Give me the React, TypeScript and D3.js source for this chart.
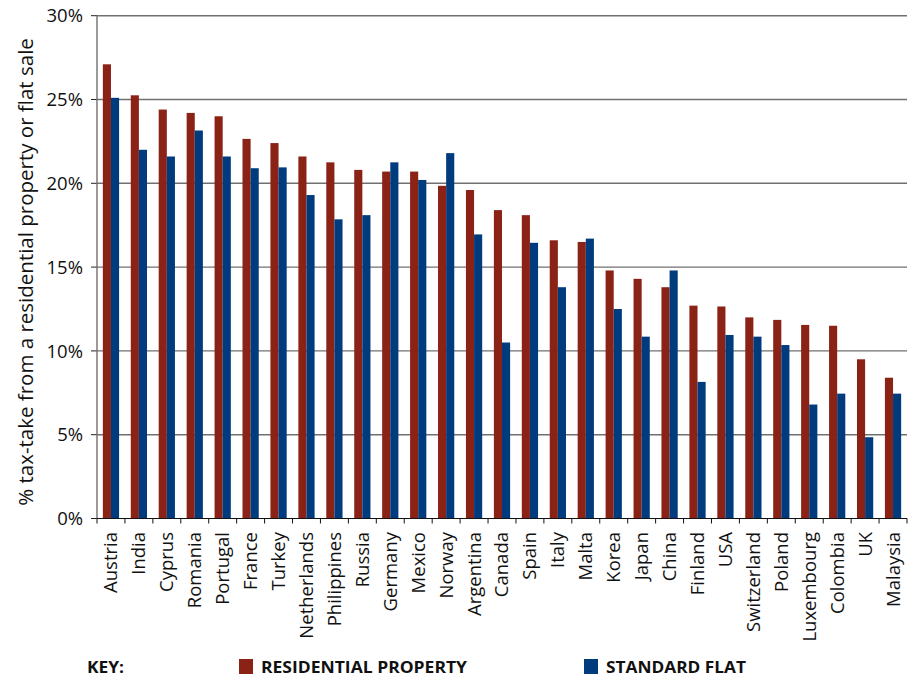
import React from "react";
import * as d3 from "d3";

const countries = ["Austria","India","Cyprus","Romania","Portugal","France","Turkey","Netherlands","Philippines","Russia","Germany","Mexico","Norway","Argentina","Canada","Spain","Italy","Malta","Korea","Japan","China","Finland","USA","Switzerland","Poland","Luxembourg","Colombia","UK","Malaysia"];
const residential = [27.1,25.25,24.4,24.2,24.0,22.65,22.4,21.6,21.25,20.8,20.7,20.7,19.85,19.6,18.4,18.1,16.6,16.5,14.8,14.3,13.8,12.7,12.65,12.0,11.85,11.55,11.5,9.5,8.4];
const standardFlat = [25.1,22.0,21.6,23.15,21.6,20.9,20.95,19.3,17.85,18.1,21.25,20.2,21.8,16.95,10.5,16.45,13.8,16.7,12.5,10.85,14.8,8.15,10.95,10.85,10.35,6.8,7.45,4.85,7.45];
const yTicks = [0,5,10,15,20,25,30];
const seriesNames = ["RESIDENTIAL PROPERTY","STANDARD FLAT"];
const seriesColors = ["#8a2315","#003b7e"];

export default function App() {
  const W = 914, H = 679;
  const left = 97, right = 907, top = 15.7, bottom = 518.5;
  const x = d3.scaleBand<string>().domain(countries).range([left, right]).paddingInner(0).paddingOuter(0);
  const sub = d3.scaleBand<number>().domain([0,1]).range([0, x.bandwidth()]).paddingInner(0).paddingOuter(0.72);
  const y = d3.scaleLinear().domain([0,30]).range([bottom, top]);
  const font = "'Open Sans', sans-serif";
  const series = [residential, standardFlat];
  return (
    <svg width={W} height={H} style={{position:"absolute", left:0, top:0, background:"#fff"}}>
      {yTicks.filter(t => t > 0).map(t => (
        <line key={"g"+t} x1={left} x2={right} y1={y(t)} y2={y(t)} stroke="#707070" strokeWidth={1.4} />
      ))}
      {yTicks.map(t => (
        <g key={"t"+t}>
          <line x1={left-6} x2={left} y1={y(t)} y2={y(t)} stroke="#222" strokeWidth={1} />
          <text x={83} y={y(t)} dy="0.36em" textAnchor="end" fontFamily={font} fontSize={18.5} fill="#111">{t + "%"}</text>
        </g>
      ))}
      {countries.map((c, i) => (
        <g key={c}>
          {series.map((s, k) => (
            <rect key={k} x={(x(c) as number) + (sub(k) as number)} y={y(s[i])} width={sub.bandwidth()} height={y(0) - y(s[i])} fill={seriesColors[k]} />
          ))}
        </g>
      ))}
      <line x1={left} x2={left} y1={top} y2={bottom} stroke="#707070" strokeWidth={1.4} />
      <line x1={left} x2={right} y1={bottom} y2={bottom} stroke="#111" strokeWidth={1.2} />
      {countries.map((c, i) => (
        <line key={"xt"+i} x1={(x(c) as number)} x2={(x(c) as number)} y1={bottom} y2={bottom+5} stroke="#111" strokeWidth={1} />
      ))}
      <line x1={right} x2={right} y1={bottom} y2={bottom+5} stroke="#111" strokeWidth={1} />
      {countries.map(c => {
        const cx = (x(c) as number) + x.bandwidth()/2;
        return (
          <text key={"l"+c} transform={`translate(${cx},${532}) rotate(-90)`} dy="0.35em" textAnchor="end" fontFamily={font} fontSize={18.5} fill="#111">{c}</text>
        );
      })}
      <text transform={`translate(33,${272}) rotate(-90)`} textAnchor="middle" fontFamily={font} fontSize={20.5} fill="#111">% tax-take from a residential property or flat sale</text>
      <text x={87} y={673} fontFamily={font} fontSize={16} fontWeight="bold" fill="#111" textLength={37} lengthAdjust="spacingAndGlyphs">KEY:</text>
      <rect x={239} y={659} width={14} height={15} fill={seriesColors[0]} />
      <text x={261} y={673} fontFamily={font} fontSize={16} fontWeight="bold" fill="#111" textLength={206} lengthAdjust="spacingAndGlyphs">{seriesNames[0]}</text>
      <rect x={584} y={659} width={14} height={15} fill={seriesColors[1]} />
      <text x={606} y={673} fontFamily={font} fontSize={16} fontWeight="bold" fill="#111" textLength={140} lengthAdjust="spacingAndGlyphs">{seriesNames[1]}</text>
    </svg>
  );
}
